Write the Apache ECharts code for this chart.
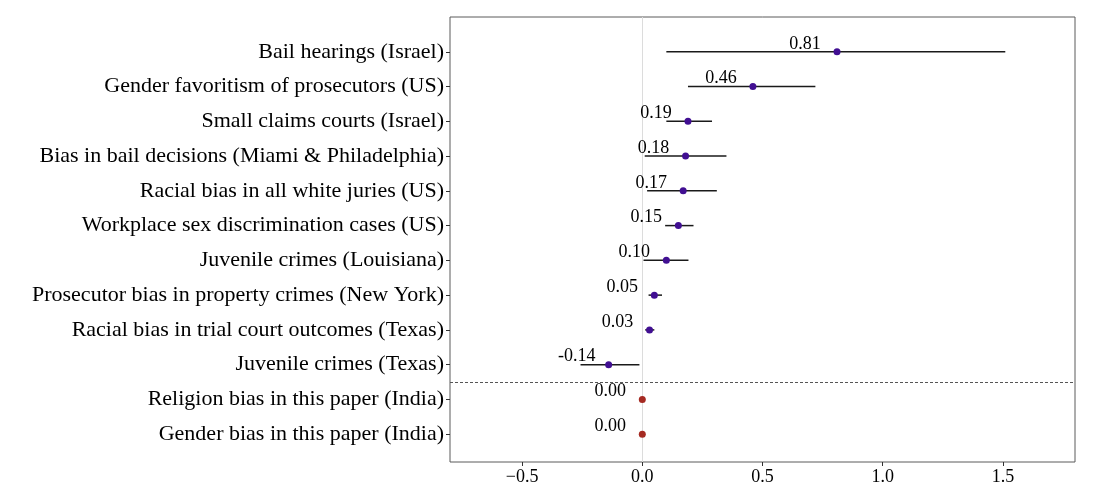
<!DOCTYPE html>
<html>
<head>
<meta charset="utf-8">
<script src="https://cdn.jsdelivr.net/npm/echarts@6/dist/echarts.min.js"></script>
<style>
  html, body { margin: 0; padding: 0; background: #fff; }
  #main { width: 1098px; height: 498px; }
</style>
</head>
<body>
<div id="main"></div>
<script>
// studies, top to bottom
const categories = [
  'Bail hearings (Israel)',
  'Gender favoritism of prosecutors (US)',
  'Small claims courts (Israel)',
  'Bias in bail decisions (Miami & Philadelphia)',
  'Racial bias in all white juries (US)',
  'Workplace sex discrimination cases (US)',
  'Juvenile crimes (Louisiana)',
  'Prosecutor bias in property crimes (New York)',
  'Racial bias in trial court outcomes (Texas)',
  'Juvenile crimes (Texas)',
  'Religion bias in this paper (India)',
  'Gender bias in this paper (India)'
];
const estimates = [0.81, 0.46, 0.19, 0.18, 0.17, 0.15, 0.10, 0.05, 0.03, -0.14, 0.00, 0.00];
const ciLow  = [0.10, 0.19, 0.10, 0.01, 0.02, 0.095, 0.005, 0.026, 0.012, -0.257, null, null];
const ciHigh = [1.51, 0.72, 0.29, 0.35, 0.31, 0.213, 0.192, 0.082, 0.05, -0.012, null, null];
const isThisPaper = [false, false, false, false, false, false, false, false, false, false, true, true];
const xTicks = [-0.5, 0, 0.5, 1, 1.5];

const serif = '"Liberation Serif", "DejaVu Serif", serif';
const n = categories.length;
const rowPos = categories.map((c, i) => n - 1 - i);

let chart = echarts.init(document.getElementById('main'), null, { renderer: 'canvas' });

let ciData = [];
for (let i = 0; i < n; i++) {
  if (ciLow[i] !== null) ciData.push([ciLow[i], ciHigh[i], rowPos[i]]);
}
let pointData = estimates.map((v, i) => [v, rowPos[i]]);

chart.setOption({
  animation: false,
  grid: {
    left: 450, right: 23, top: 17, bottom: 36,
    show: true, borderColor: '#5a5a5a', borderWidth: 1
  },
  xAxis: {
    type: 'value',
    min: -0.8,
    max: 1.8,
    axisLine: { show: false, onZero: false },
    axisTick: { show: true, length: 4, customValues: xTicks, lineStyle: { color: '#333' } },
    axisLabel: {
      customValues: xTicks,
      margin: 6,
      fontFamily: serif,
      fontSize: 18,
      color: '#000',
      formatter: v => (v < 0 ? '\u2212' : '') + Math.abs(v).toFixed(1)
    },
    splitLine: { show: false }
  },
  yAxis: {
    type: 'value',
    min: -0.8,
    max: 12,
    axisLine: { show: false, onZero: false },
    axisTick: { show: true, length: 4, customValues: rowPos, lineStyle: { color: '#333' } },
    axisLabel: {
      customValues: rowPos,
      margin: 6,
      fontFamily: serif,
      fontSize: 22,
      color: '#000',
      formatter: v => categories[n - 1 - Math.round(v)]
    },
    splitLine: { show: false }
  },
  series: [{
    type: 'custom',
    name: 'ci',
    z: 2,
    data: ciData,
    renderItem: function (params, api) {
      let a = api.coord([api.value(0), api.value(2)]);
      let b = api.coord([api.value(1), api.value(2)]);
      return {
        type: 'line',
        shape: { x1: a[0], y1: a[1], x2: b[0], y2: b[1] },
        style: { stroke: '#1a1a1a', lineWidth: 1.5 }
      };
    },
    markLine: {
      silent: true,
      symbol: 'none',
      label: { show: false },
      z: 1,
      data: [
        { xAxis: 0, lineStyle: { color: '#dcdcdc', width: 1, type: 'solid' } },
        { yAxis: 1.5, lineStyle: { color: '#555', width: 1, type: [3, 2] } }
      ]
    }
  }, {
    type: 'scatter',
    name: 'estimate',
    z: 3,
    symbolSize: 7,
    data: pointData,
    itemStyle: {
      opacity: 1,
      color: p => isThisPaper[p.dataIndex] ? '#a52a22' : '#410f92'
    },
    label: {
      show: true,
      position: 'inside',
      offset: [-32, -8],
      fontFamily: serif,
      fontSize: 18,
      color: '#000',
      formatter: p => p.value[0].toFixed(2)
    }
  }]
});
</script>
</body>
</html>
